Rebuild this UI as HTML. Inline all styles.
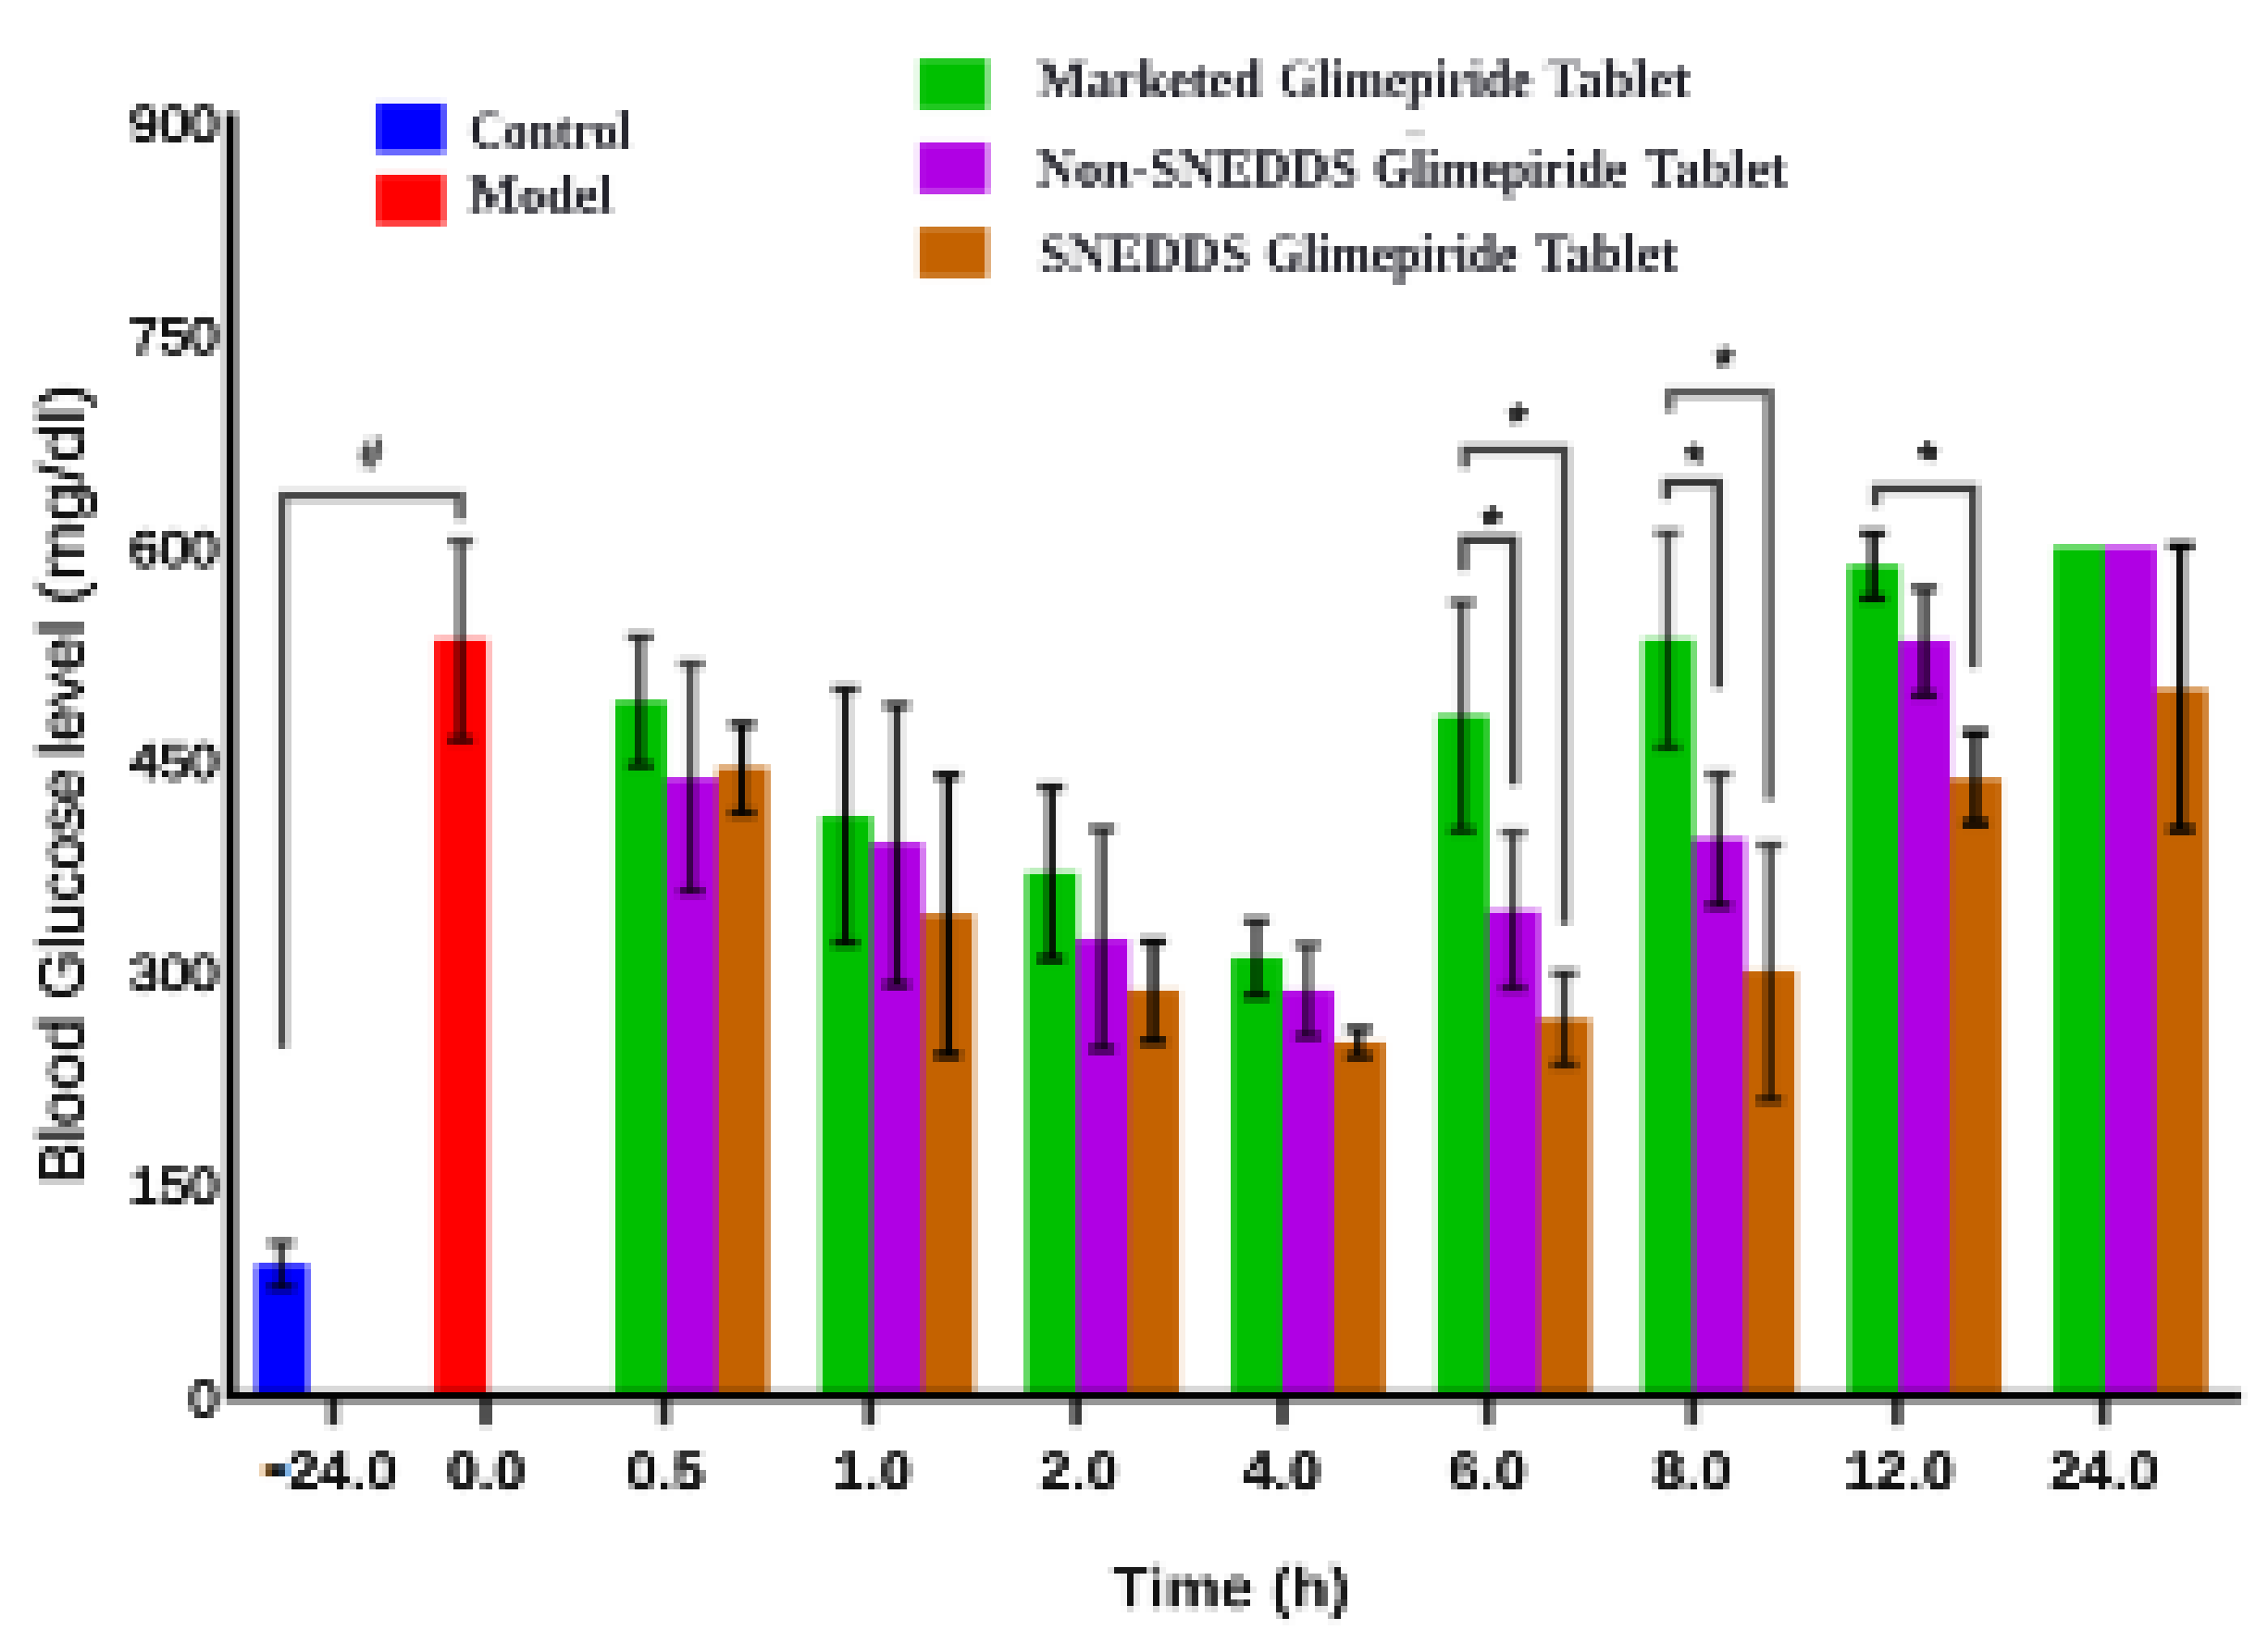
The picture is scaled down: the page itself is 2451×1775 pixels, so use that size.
<!DOCTYPE html>
<html lang="en"><head><meta charset="utf-8"><title>Blood glucose level chart</title>
<style>
html,body{margin:0;padding:0;background:#fff;}
body{width:2451px;height:1775px;overflow:hidden;}
svg{display:block;}
.ser{font-family:"Liberation Serif",serif;font-weight:bold;font-size:56px;fill:#22222a;}
.yt{font-family:"Liberation Sans",sans-serif;font-size:55px;fill:#111;stroke:#111;stroke-width:2.2px;text-anchor:end;}
.xt{font-family:"Liberation Sans",sans-serif;font-weight:bold;font-size:58px;fill:#111;stroke:#111;stroke-width:.6px;text-anchor:middle;}
.ttl{font-family:"Liberation Sans",sans-serif;font-weight:bold;font-size:63px;fill:#111;}
.ytl{font-family:"Liberation Sans",sans-serif;font-size:69px;fill:#111;stroke:#111;stroke-width:1.4px;}
.sym{font-family:"Liberation Sans",sans-serif;font-weight:bold;fill:#222;text-anchor:middle;}
</style></head><body>
<svg width="2451" height="1775" viewBox="0 0 2451 1775">
<defs>
<filter id="bs" x="0" y="0" width="2451" height="1775" filterUnits="userSpaceOnUse" color-interpolation-filters="sRGB"><feGaussianBlur stdDeviation="2.2"/></filter>
<filter id="bt" x="0" y="0" width="2451" height="1775" filterUnits="userSpaceOnUse" color-interpolation-filters="sRGB"><feGaussianBlur stdDeviation="1.6"/></filter>
<filter id="px" x="0" y="0" width="2451" height="1775" filterUnits="userSpaceOnUse" color-interpolation-filters="sRGB">
<feFlood x="3" y="3" width="1" height="1" flood-color="#000" result="dot"/>
<feComposite in="dot" in2="dot" operator="over" x="0" y="0" width="7" height="7" result="cell"/>
<feTile in="cell" result="grid"/>
<feComposite in="SourceGraphic" in2="grid" operator="in" result="samp"/>
<feMorphology in="samp" operator="dilate" radius="3" result="pix"/>
<feMerge><feMergeNode in="SourceGraphic"/><feMergeNode in="pix"/></feMerge>
</filter>
</defs>
<rect width="2451" height="1775" fill="#fff"/>
<g filter="url(#px)"><rect x="-20" y="-20" width="2491" height="1815" fill="#fff"/>
<g filter="url(#bs)">
<rect x="407.0" y="112.0" width="73.5" height="53.0" fill="#0000ff"/>
<rect x="407.0" y="189.0" width="73.5" height="54.0" fill="#ff0000"/>
<rect x="993.5" y="64.0" width="74.0" height="54.0" fill="#00c000"/>
<rect x="993.5" y="154.5" width="74.0" height="54.0" fill="#b000e4"/>
<rect x="993.5" y="246.0" width="74.0" height="54.0" fill="#c46200"/>
<rect x="276.5" y="1367.0" width="56.5" height="140.0" fill="#0000ff"/>
<rect x="469.5" y="691.0" width="57.5" height="816.0" fill="#ff0000"/>
<rect x="664.7" y="758.0" width="55.5" height="749.0" fill="#00c000"/>
<rect x="719.7" y="841.5" width="55.8" height="665.5" fill="#b000e4"/>
<rect x="774.9" y="829.5" width="55.5" height="677.5" fill="#c46200"/>
<rect x="886.8" y="882.5" width="55.5" height="624.5" fill="#00c000"/>
<rect x="941.8" y="911.5" width="55.8" height="595.5" fill="#b000e4"/>
<rect x="997.0" y="988.5" width="55.5" height="518.5" fill="#c46200"/>
<rect x="1108.9" y="943.0" width="55.5" height="564.0" fill="#00c000"/>
<rect x="1163.9" y="1015.5" width="55.8" height="491.5" fill="#b000e4"/>
<rect x="1219.1" y="1070.5" width="55.5" height="436.5" fill="#c46200"/>
<rect x="1331.0" y="1035.2" width="55.5" height="471.8" fill="#00c000"/>
<rect x="1386.0" y="1071.0" width="55.8" height="436.0" fill="#b000e4"/>
<rect x="1441.2" y="1126.5" width="55.5" height="380.5" fill="#c46200"/>
<rect x="1553.1" y="773.5" width="55.5" height="733.5" fill="#00c000"/>
<rect x="1608.1" y="984.5" width="55.8" height="522.5" fill="#b000e4"/>
<rect x="1663.3" y="1101.5" width="55.5" height="405.5" fill="#c46200"/>
<rect x="1775.2" y="691.0" width="55.5" height="816.0" fill="#00c000"/>
<rect x="1830.2" y="906.5" width="55.8" height="600.5" fill="#b000e4"/>
<rect x="1885.4" y="1049.5" width="55.5" height="457.5" fill="#c46200"/>
<rect x="1997.3" y="611.3" width="55.6" height="895.7" fill="#00c000"/>
<rect x="2052.2" y="692.5" width="55.9" height="814.5" fill="#b000e4"/>
<rect x="2107.5" y="842.0" width="55.6" height="665.0" fill="#c46200"/>
<rect x="2219.4" y="591.0" width="55.6" height="916.0" fill="#00c000"/>
<rect x="2274.3" y="591.0" width="55.9" height="916.0" fill="#b000e4"/>
<rect x="2329.6" y="745.0" width="55.6" height="762.0" fill="#c46200"/>
<path d="M299.2 1343.5h9.5V1391.5h-9.5z" fill="#000" fill-opacity="0.70"/>
<path d="M290.0 1338.8h28v9.5h-28z M290.0 1386.8h28v9.5h-28z" fill="#000" fill-opacity="0.66"/>
<path d="M493.2 585.0h9.5V800.0h-9.5z" fill="#000" fill-opacity="0.70"/>
<path d="M484.0 580.2h28v9.5h-28z M484.0 795.2h28v9.5h-28z" fill="#000" fill-opacity="0.66"/>
<path d="M686.9 688.5h9.5V827.5h-9.5z" fill="#000" fill-opacity="0.75"/>
<path d="M677.6 683.8h28v9.5h-28z M677.6 822.8h28v9.5h-28z" fill="#000" fill-opacity="0.72"/>
<path d="M742.1 717.5h9.5V963.5h-9.5z" fill="#000" fill-opacity="0.70"/>
<path d="M732.9 712.8h28v9.5h-28z M732.9 958.8h28v9.5h-28z" fill="#000" fill-opacity="0.66"/>
<path d="M797.6 783.0h9V879.0h-9z" fill="#000" fill-opacity="0.98"/>
<path d="M788.1 778.2h28v9.5h-28z M788.1 874.2h28v9.5h-28z" fill="#000" fill-opacity="0.88"/>
<path d="M909.2 745.0h9V1019.5h-9z" fill="#000" fill-opacity="0.92"/>
<path d="M899.7 740.2h28v9.5h-28z M899.7 1014.8h28v9.5h-28z" fill="#000" fill-opacity="0.83"/>
<path d="M964.2 762.5h9.5V1064.5h-9.5z" fill="#000" fill-opacity="0.81"/>
<path d="M955.0 757.8h28v9.5h-28z M955.0 1059.8h28v9.5h-28z" fill="#000" fill-opacity="0.77"/>
<path d="M1019.7 838.3h9V1140.5h-9z" fill="#000" fill-opacity="1.00"/>
<path d="M1010.2 833.5h28v9.5h-28z M1010.2 1135.8h28v9.5h-28z" fill="#000" fill-opacity="0.99"/>
<path d="M1131.3 851.0h9V1036.5h-9z" fill="#000" fill-opacity="0.98"/>
<path d="M1121.8 846.2h28v9.5h-28z M1121.8 1031.8h28v9.5h-28z" fill="#000" fill-opacity="0.88"/>
<path d="M1186.3 896.0h9.5V1134.0h-9.5z" fill="#000" fill-opacity="0.75"/>
<path d="M1177.1 891.2h28v9.5h-28z M1177.1 1129.2h28v9.5h-28z" fill="#000" fill-opacity="0.72"/>
<path d="M1241.8 1018.0h9V1126.0h-9z" fill="#000" fill-opacity="1.00"/>
<path d="M1232.3 1013.2h28v9.5h-28z M1232.3 1121.2h28v9.5h-28z" fill="#000" fill-opacity="0.94"/>
<path d="M1353.2 995.5h9.5V1076.5h-9.5z" fill="#000" fill-opacity="0.81"/>
<path d="M1343.9 990.8h28v9.5h-28z M1343.9 1071.8h28v9.5h-28z" fill="#000" fill-opacity="0.77"/>
<path d="M1408.4 1021.5h9.5V1120.3h-9.5z" fill="#000" fill-opacity="0.70"/>
<path d="M1399.2 1016.8h28v9.5h-28z M1399.2 1115.5h28v9.5h-28z" fill="#000" fill-opacity="0.66"/>
<path d="M1463.9 1112.5h9V1142.0h-9z" fill="#000" fill-opacity="0.92"/>
<path d="M1454.4 1107.8h28v9.5h-28z M1454.4 1137.2h28v9.5h-28z" fill="#000" fill-opacity="0.83"/>
<path d="M1575.3 651.0h9.5V898.0h-9.5z" fill="#000" fill-opacity="0.70"/>
<path d="M1566.0 646.2h28v9.5h-28z M1566.0 893.2h28v9.5h-28z" fill="#000" fill-opacity="0.66"/>
<path d="M1630.5 900.0h9.5V1068.0h-9.5z" fill="#000" fill-opacity="0.70"/>
<path d="M1621.3 895.2h28v9.5h-28z M1621.3 1063.2h28v9.5h-28z" fill="#000" fill-opacity="0.66"/>
<path d="M1685.8 1052.0h9.5V1151.0h-9.5z" fill="#000" fill-opacity="0.75"/>
<path d="M1676.5 1047.2h28v9.5h-28z M1676.5 1146.2h28v9.5h-28z" fill="#000" fill-opacity="0.72"/>
<path d="M1797.4 576.0h9.5V808.0h-9.5z" fill="#000" fill-opacity="0.64"/>
<path d="M1788.1 571.2h28v9.5h-28z M1788.1 803.2h28v9.5h-28z" fill="#000" fill-opacity="0.61"/>
<path d="M1852.6 837.0h9.5V979.0h-9.5z" fill="#000" fill-opacity="0.75"/>
<path d="M1843.4 832.2h28v9.5h-28z M1843.4 974.2h28v9.5h-28z" fill="#000" fill-opacity="0.72"/>
<path d="M1907.9 913.5h9.5V1189.0h-9.5z" fill="#000" fill-opacity="0.70"/>
<path d="M1898.6 908.8h28v9.5h-28z M1898.6 1184.2h28v9.5h-28z" fill="#000" fill-opacity="0.66"/>
<path d="M2019.7 576.5h9V647.0h-9z" fill="#000" fill-opacity="0.98"/>
<path d="M2010.2 571.8h28v9.5h-28z M2010.2 642.2h28v9.5h-28z" fill="#000" fill-opacity="0.88"/>
<path d="M2074.7 636.0h9.5V751.5h-9.5z" fill="#000" fill-opacity="0.81"/>
<path d="M2065.5 631.2h28v9.5h-28z M2065.5 746.8h28v9.5h-28z" fill="#000" fill-opacity="0.77"/>
<path d="M2130.2 792.0h9V890.0h-9z" fill="#000" fill-opacity="1.00"/>
<path d="M2120.7 787.2h28v9.5h-28z M2120.7 885.2h28v9.5h-28z" fill="#000" fill-opacity="1.00"/>
<path d="M2352.3 590.0h9V896.5h-9z" fill="#000" fill-opacity="1.00"/>
<path d="M2342.8 585.2h28v9.5h-28z M2342.8 891.8h28v9.5h-28z" fill="#000" fill-opacity="1.00"/>
<path d="M301.0 531.2H502.1V562.0h-9.148148148148149V540.8H310.0V1133.0h-9z" fill="#303030" fill-opacity="0.9180000000000001"/>
<path d="M1577.0 578.2H1640.8V849.0h-9.5V587.8H1586.0V617.0h-9z" fill="#303030" fill-opacity="1"/>
<path d="M1578.5 481.2H1695.8V999.0h-9.5V490.8H1587.5V506.0h-9z" fill="#303030" fill-opacity="0.9180000000000001"/>
<path d="M1796.5 516.8H1861.8V744.0h-9.5V526.2H1805.5V540.0h-9z" fill="#303030" fill-opacity="1"/>
<path d="M1800.0 419.8H1916.8V865.0h-9.5V429.2H1809.0V445.0h-9z" fill="#303030" fill-opacity="0.8370000000000001"/>
<path d="M2022.5 523.2H2137.8V722.0h-9.5V532.8H2031.5V547.5h-9z" fill="#303030" fill-opacity="0.945"/>
<rect x="243.6" y="122.0" width="11.6" height="1393.0" fill="#000"/>
<rect x="243.6" y="1503.8" width="2178.4" height="11.2" fill="#000"/>
<rect x="354.5" y="1514.0" width="11.0" height="27.0" fill="#000" fill-opacity="0.85"/>
<rect x="519.5" y="1514.0" width="11.0" height="27.0" fill="#000" fill-opacity="0.85"/>
<rect x="712.5" y="1514.0" width="11.0" height="27.0" fill="#000" fill-opacity="0.85"/>
<rect x="934.5" y="1514.0" width="11.0" height="27.0" fill="#000" fill-opacity="0.85"/>
<rect x="1157.5" y="1514.0" width="11.0" height="27.0" fill="#000" fill-opacity="0.85"/>
<rect x="1380.5" y="1514.0" width="11.0" height="27.0" fill="#000" fill-opacity="0.85"/>
<rect x="1602.5" y="1514.0" width="11.0" height="27.0" fill="#000" fill-opacity="0.85"/>
<rect x="1823.5" y="1514.0" width="11.0" height="27.0" fill="#000" fill-opacity="0.85"/>
<rect x="2044.5" y="1514.0" width="11.0" height="27.0" fill="#000" fill-opacity="0.85"/>
<rect x="2267.5" y="1514.0" width="11.0" height="27.0" fill="#000" fill-opacity="0.85"/>
<rect x="1519.0" y="143.0" width="20.0" height="4.5" fill="#888" fill-opacity="0.7"/>
</g><g filter="url(#bt)">
<text class="yt" x="236.5" y="152.7" textLength="96.6" lengthAdjust="spacingAndGlyphs">900</text>
<text class="yt" x="236.5" y="382.4" textLength="96.6" lengthAdjust="spacingAndGlyphs">750</text>
<text class="yt" x="236.5" y="612.0" textLength="96.6" lengthAdjust="spacingAndGlyphs">600</text>
<text class="yt" x="236.5" y="841.7" textLength="96.6" lengthAdjust="spacingAndGlyphs">450</text>
<text class="yt" x="236.5" y="1071.4" textLength="96.6" lengthAdjust="spacingAndGlyphs">300</text>
<text class="yt" x="236.5" y="1301.0" textLength="96.6" lengthAdjust="spacingAndGlyphs">150</text>
<text class="yt" x="236.5" y="1530.7" textLength="32.2" lengthAdjust="spacingAndGlyphs">0</text>
<text class="xt" x="525.5" y="1610" textLength="84.8" lengthAdjust="spacingAndGlyphs">0.0</text>
<text class="xt" x="719" y="1610" textLength="84.8" lengthAdjust="spacingAndGlyphs">0.5</text>
<text class="xt" x="943" y="1610" textLength="84.8" lengthAdjust="spacingAndGlyphs">1.0</text>
<text class="xt" x="1166" y="1610" textLength="84.8" lengthAdjust="spacingAndGlyphs">2.0</text>
<text class="xt" x="1385" y="1610" textLength="84.8" lengthAdjust="spacingAndGlyphs">4.0</text>
<text class="xt" x="1607.5" y="1610" textLength="84.8" lengthAdjust="spacingAndGlyphs">6.0</text>
<text class="xt" x="1829" y="1610" textLength="84.8" lengthAdjust="spacingAndGlyphs">8.0</text>
<text class="xt" x="2053" y="1610" textLength="118.7" lengthAdjust="spacingAndGlyphs">12.0</text>
<text class="xt" x="2274" y="1610" textLength="118.7" lengthAdjust="spacingAndGlyphs">24.0</text>
<text class="xt" x="370.3" y="1610" textLength="118.7" lengthAdjust="spacingAndGlyphs">24.0</text>
<text class="xt" x="298" y="1615.5" style="font-size:100px">-</text>
<rect x="284.0" y="1583.5" width="6.5" height="13.0" fill="#d48a30" fill-opacity="0.9"/>
<rect x="305.5" y="1583.5" width="6.5" height="13.0" fill="#2a86e0" fill-opacity="0.9"/>
<text class="ttl" x="1201.5" y="1738" textLength="257" lengthAdjust="spacingAndGlyphs">Time (h)</text>
<text class="ytl" transform="translate(90 1281.5) rotate(-90)" textLength="183" lengthAdjust="spacingAndGlyphs">Blood</text>
<text class="ytl" transform="translate(90 1080.5) rotate(-90)" textLength="250" lengthAdjust="spacingAndGlyphs">Glucose</text>
<text class="ytl" transform="translate(90 819) rotate(-90)" textLength="148" lengthAdjust="spacingAndGlyphs">level</text>
<text class="ytl" transform="translate(90 654) rotate(-90)" textLength="239" lengthAdjust="spacingAndGlyphs">(mg/dl)</text>
<text class="ser" x="507" y="160" textLength="175" lengthAdjust="spacingAndGlyphs">Control</text>
<text class="ser" x="507" y="229" textLength="155" lengthAdjust="spacingAndGlyphs">Model</text>
<text class="ser" x="1120.5" y="104.5" textLength="243.5" lengthAdjust="spacingAndGlyphs">Marketed</text>
<text class="ser" x="1382.1" y="104.5" textLength="273.9" lengthAdjust="spacingAndGlyphs">Glimepiride</text>
<text class="ser" x="1670.3" y="104.5" textLength="156.2" lengthAdjust="spacingAndGlyphs">Tablet</text>
<text class="ser" x="1120.5" y="201" textLength="347.7" lengthAdjust="spacingAndGlyphs">Non-SNEDDS</text>
<text class="ser" x="1484.5" y="201" textLength="273.8" lengthAdjust="spacingAndGlyphs">Glimepiride</text>
<text class="ser" x="1776.5" y="201" textLength="154.4" lengthAdjust="spacingAndGlyphs">Tablet</text>
<text class="ser" x="1122.4" y="292.5" textLength="228.3" lengthAdjust="spacingAndGlyphs">SNEDDS</text>
<text class="ser" x="1367.0" y="292.5" textLength="273.8" lengthAdjust="spacingAndGlyphs">Glimepiride</text>
<text class="ser" x="1659.0" y="292.5" textLength="154.3" lengthAdjust="spacingAndGlyphs">Tablet</text>
<text class="sym" x="400.5" y="505.5" style="font-size:46px;font-style:italic;stroke:#222;stroke-width:2px" fill-opacity=".75" stroke-opacity=".75">#</text>
<text class="sym" x="1611.5" y="584.5" style="font-size:52px;stroke:#222;stroke-width:2px">*</text>
<text class="sym" x="1639.5" y="473.5" style="font-size:52px;stroke:#222;stroke-width:2px">*</text>
<text class="sym" x="1831.5" y="517.0" style="font-size:52px;stroke:#222;stroke-width:2px">*</text>
<text class="sym" x="1863" y="412.0" style="font-size:52px;stroke:#222;stroke-width:2px">*</text>
<text class="sym" x="2084" y="515.0" style="font-size:52px;stroke:#222;stroke-width:2px">*</text>
</g></g></svg></body></html>
